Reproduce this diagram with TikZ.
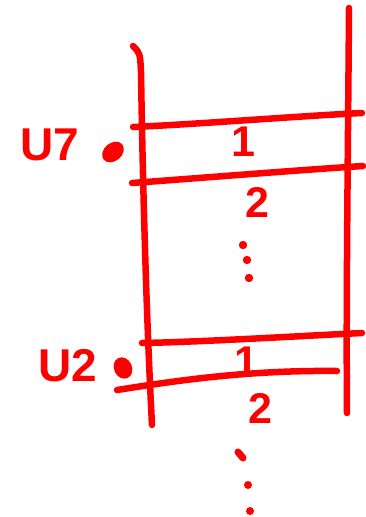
\documentclass[tikz,border=0pt]{standalone}
\usepackage{fontspec}
\setmainfont{Liberation Sans}
\definecolor{pen}{RGB}{255,0,0}
\begin{document}
\begin{tikzpicture}[x=1pt,y=-1pt,
  stroke/.style={draw=pen,line width=6.5pt,line cap=round,line join=round},
  lbl/.style={text=pen,inner sep=0pt,font=\fontsize{43}{43}\selectfont\bfseries},
  biglbl/.style={text=pen,inner sep=0pt,font=\fontsize{46}{46}\selectfont\bfseries},
  dotmark/.style={fill=pen,draw=none}]
\useasboundingbox (0,0) rectangle (365,517);
% vertical rails
\coordinate (lt) at (133,46);
\coordinate (lm) at (141,72);
\coordinate (lb) at (152,425);
\coordinate (rt) at (349,8);
\coordinate (rb) at (347,413);
\draw[stroke] (lt) .. controls (140,53) .. (lm) .. controls (143,200) and (147,330) .. (lb);
\draw[stroke] (rt) .. controls (348,150) and (346,300) .. (rb);
% rungs
\coordinate (a1) at (133,127); \coordinate (a2) at (362,113);
\coordinate (b1) at (132,183); \coordinate (b2) at (363,166);
\coordinate (c1) at (142,343); \coordinate (c2) at (362,333);
\coordinate (d1) at (117,390); \coordinate (d2) at (337,371);
\draw[stroke] (a1) .. controls (200,124) and (300,116) .. (a2);
\draw[stroke] (b1) .. controls (200,178) and (300,170) .. (b2);
\draw[stroke] (c1) .. controls (200,342) and (300,336) .. (c2);
\draw[stroke] (d1) .. controls (180,380) and (250,370) .. (d2);
% labels
\node[biglbl] (u7) at (50,145) {U7};
\node[biglbl] (u2) at (68,366) {U2};
\node[lbl] (one1) at (243,142) {1};
\node[lbl] (two1) at (257,202) {2};
\node[lbl] (one2) at (246,362) {1};
\node[lbl] (two2) at (260,408) {2};
% vertex dots
\fill[dotmark,rotate around={40:(113,152)}] (113,152) ellipse [x radius=12, y radius=9];
\fill[dotmark,rotate around={25:(123,368)}] (123,368) ellipse [x radius=9, y radius=11];
% ellipsis dots
\fill[dotmark] (243,245) circle [radius=4.2];
\fill[dotmark] (247,260) circle [radius=4.2];
\fill[dotmark] (249,278) circle [radius=4.2];
\coordinate (e1) at (238,452); \coordinate (e2) at (243,458);
\draw[draw=pen,line width=7pt,line cap=round] (e1) -- (e2);
\fill[dotmark] (248,485) circle [radius=4];
\fill[dotmark] (250,511) circle [radius=4];
\end{tikzpicture}
\end{document}
